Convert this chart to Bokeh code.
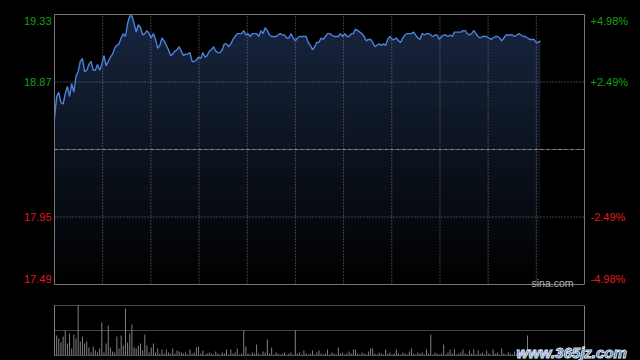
import numpy as np
from bokeh.plotting import figure
from bokeh.models import Range1d, Label, GlobalInlineStyleSheet
from bokeh.embed import file_html
from bokeh.resources import INLINE

# ---- data ----
price = [
    18.62, 18.77, 18.80, 18.73, 18.72, 18.79, 18.84, 18.77, 18.86, 18.80,
    18.91, 18.94, 19.01, 19.03, 18.94, 18.95, 18.99, 19.01, 18.95, 18.95,
    18.99, 18.95, 18.99, 19.05, 18.98, 19.01, 19.04, 19.06, 19.10, 19.12,
    19.13, 19.17, 19.20, 19.18, 19.27, 19.32, 19.32, 19.27, 19.21, 19.26,
    19.24, 19.19, 19.20, 19.22, 19.20, 19.17, 19.20, 19.16, 19.10, 19.12,
    19.17, 19.15, 19.12, 19.09, 19.05, 19.06, 19.08, 19.09, 19.11, 19.08,
    19.05, 19.06, 19.06, 19.07, 19.01, 19.01,
    19.02, 19.04, 19.03, 19.07, 19.04, 19.05, 19.08, 19.09, 19.11, 19.08,
    19.07, 19.07, 19.09, 19.13, 19.13, 19.11, 19.13, 19.16, 19.18, 19.20,
    19.20, 19.20, 19.22, 19.19, 19.20, 19.18, 19.20, 19.20, 19.20, 19.18,
    19.22, 19.20, 19.24, 19.22, 19.19, 19.18, 19.18, 19.18, 19.19, 19.20,
    19.19, 19.19, 19.17, 19.17, 19.20, 19.17, 19.15, 19.17, 19.18, 19.18,
    19.18, 19.18, 19.14, 19.12, 19.09, 19.11, 19.14, 19.14, 19.17, 19.16,
    19.18, 19.20, 19.20, 19.19, 19.18, 19.18, 19.18, 19.20, 19.18, 19.20,
    19.18, 19.18, 19.20, 19.20, 19.23, 19.22, 19.21, 19.20, 19.18, 19.15,
    19.16, 19.16, 19.14, 19.11, 19.12, 19.13, 19.12, 19.13, 19.12, 19.16,
    19.18, 19.16, 19.16, 19.17, 19.15, 19.14, 19.17, 19.19, 19.20, 19.20,
    19.20, 19.21, 19.19, 19.17,
    19.16, 19.20, 19.19, 19.20, 19.20, 19.19, 19.18, 19.19, 19.19, 19.16,
    19.18, 19.19, 19.19, 19.18, 19.19, 19.18, 19.21, 19.21, 19.21, 19.21,
    19.22, 19.22, 19.20, 19.19, 19.20, 19.22, 19.20, 19.18, 19.17, 19.18,
    19.18, 19.18, 19.17, 19.16, 19.17, 19.18, 19.18, 19.17, 19.15, 19.17,
    19.19, 19.19, 19.19, 19.19, 19.18, 19.19, 19.20, 19.19, 19.18, 19.18,
    19.17, 19.16, 19.16, 19.16, 19.14, 19.14, 19.15,
]

volume = [
    23, 20, 17, 13, 19, 25, 12, 22, 7, 21,
    17, 50, 14, 19, 12, 14, 8, 3, 9, 5,
    3, 7, 33, 3, 12, 30, 8, 4, 3, 19,
    7, 20, 10, 47, 13, 22, 31, 8, 7, 10,
    12, 5, 21, 10, 3, 8, 12, 3, 7, 2,
    6, 2, 6, 3, 2, 7, 2, 5, 4, 3,
    2, 3, 1, 6, 2, 3, 8, 9, 2, 5,
    1, 2, 3, 2, 1, 4, 2, 1, 3, 2,
    6, 1, 6, 2, 3, 7, 1, 2, 25, 9,
    2, 1, 3, 2, 11, 2, 1, 4, 3, 16,
    2, 8, 1, 3, 2, 1, 2, 3, 1, 2,
    3, 1, 25, 2, 3, 1, 5, 2, 1, 2,
    5, 1, 3, 5, 2, 1, 2, 6, 1, 3,
    2, 1, 8, 2, 3, 1, 2, 4, 2, 6,
    6, 2, 1, 3, 2, 1, 4, 7, 7, 2,
    1, 3, 2, 1, 6, 2, 3, 1, 2, 6,
    2, 1, 3, 2, 1, 4, 7, 2, 1, 3,
    2, 3, 1, 6, 2, 21, 1, 3, 2, 1,
    2, 11, 1, 3, 6, 2, 6, 1, 2, 3,
    6, 2, 1, 5, 2, 6, 1, 5, 2, 3,
    1, 5, 2, 1, 6, 2, 3, 1, 7, 2,
    1, 3, 2, 1, 4, 2, 3, 1, 2, 2,
    20, 2, 3, 1, 2, 2, 3,
]

prev_close = 18.41
price_ticks = [17.49, 17.95, 18.41, 18.87, 19.33]
price_labels = ["17.49", "17.95", "", "18.87", "19.33"]
pct_labels = ["-4.98%", "-2.49%", "", "+2.49%", "+4.98%"]
n_columns = 11
session_slots = 246.5

# ---- layout (pixels on the 640x360 canvas) ----
W, H = 640, 360
PX_L, PX_R = 54, 584          # panels' left / right edges
MAIN_T, MAIN_B = 14, 284      # price panel top / bottom
VOL_T, VOL_B = 305, 355       # volume panel top / bottom

UP = "#14a014"
DOWN = "#e01a1a"
GRID = "#7c7c7c"
BORDER = "#777777"
FONT = "Liberation Sans"

x = np.arange(len(price))
pr = np.array(price)
ymin, ymax = price_ticks[0], price_ticks[-1]
vmax = max(volume)

# ranges chosen so that the panels land on their pixel boxes
ux = session_slots / (PX_R - PX_L)
uy = (ymax - ymin) / (MAIN_B - MAIN_T)
uv = vmax / (VOL_B - VOL_T)

p = figure(width=W, height=H, toolbar_location=None, output_backend="svg",
           x_axis_location=None, y_axis_location=None,
           x_range=Range1d(-PX_L * ux, session_slots + (W - PX_R) * ux),
           y_range=Range1d(ymin - (H - MAIN_B) * uy, ymax + MAIN_T * uy),
           background_fill_color="black", border_fill_color="black",
           outline_line_color=None, min_border=0)
p.extra_y_ranges = {"vol": Range1d(-(H - VOL_B) * uv, vmax + VOL_T * uv)}
p.xgrid.grid_line_color = None
p.ygrid.grid_line_color = None

# gradient fill under the price line (banded)
n_bands = 48
levels = np.linspace(ymin, ymax, n_bands + 1)
top_rgb = (24, 38, 64)
eps = uy * 0.6
for k in range(n_bands):
    lo, hi = levels[k], levels[k + 1]
    f = (k + 0.5) / n_bands
    col = "#%02x%02x%02x" % tuple(int(round(c * f)) for c in top_rgb)
    p.varea(x=x, y1=np.minimum(pr, lo - eps), y2=np.minimum(pr, hi), fill_color=col)

# grid of the price panel
gx = [session_slots * k / n_columns for k in range(1, n_columns)]
p.segment(x0=gx, y0=[ymin] * len(gx), x1=gx, y1=[ymax] * len(gx),
          line_color=GRID, line_dash="1 2", line_width=1)
hy = [v for v in price_ticks[1:-1] if v != prev_close]
p.segment(x0=[0] * len(hy), y0=hy, x1=[session_slots] * len(hy), y1=hy,
          line_color=GRID, line_dash="1 2", line_width=1)
p.segment(x0=[0], y0=[prev_close], x1=[session_slots], y1=[prev_close],
          line_color="#9a9a9a", line_dash="3 1 1 1", line_width=1)

p.line(x, pr, line_color="#4a82dc", line_width=1.4)

# price panel border
p.segment(x0=[0, 0, 0, session_slots], y0=[ymin, ymax, ymin, ymin],
          x1=[session_slots, session_slots, 0, session_slots], y1=[ymin, ymax, ymax, ymax],
          line_color=BORDER, line_width=1)

for v, lab, pct in zip(price_ticks, price_labels, pct_labels):
    if not lab:
        continue
    col = UP if v > prev_close else DOWN
    yo = -6 if v == ymax else (6 if v == ymin else 0)
    p.add_layout(Label(x=0, y=v, text=lab, x_offset=-3, y_offset=yo,
                       text_align="right", text_baseline="middle",
                       text_color=col, text_font=FONT, text_font_size="11px"))
    p.add_layout(Label(x=session_slots, y=v, text=pct, x_offset=6, y_offset=yo,
                       text_align="left", text_baseline="middle",
                       text_color=col, text_font=FONT, text_font_size="11px"))

p.add_layout(Label(x=session_slots, y=ymin, text="sina.com", x_offset=-11, y_offset=2,
                   text_align="right", text_baseline="alphabetic",
                   text_color="#b4b4b4", text_font=FONT, text_font_size="10.5px"))

# ---- volume panel ----
p.vbar(x=x, top=volume, width=0.45, fill_color="#858585", line_color=None,
       y_range_name="vol")
vy = [0, vmax / 2, vmax]
p.segment(x0=[0] * 3, y0=vy, x1=[session_slots] * 3, y1=vy, y_range_name="vol",
          line_color="#8a8a8a", line_dash="1 1", line_width=1)
p.segment(x0=[0, session_slots], y0=[0, 0], x1=[0, session_slots], y1=[vmax, vmax],
          y_range_name="vol", line_color="#808080", line_width=1)

p.add_layout(Label(x=session_slots, y=0, y_range_name="vol", text="www.365jz.com",
                   x_offset=-68, y_offset=3, text_align="left", text_baseline="alphabetic",
                   text_color="#2f5da6", text_outline_color="#dce4f0",
                   text_font=FONT, text_font_style="bold italic",
                   text_font_size="15px"))

p.stylesheets = [GlobalInlineStyleSheet(css="html, body { background: #000; }")]

open("out.html", "w").write(file_html(p, INLINE))
